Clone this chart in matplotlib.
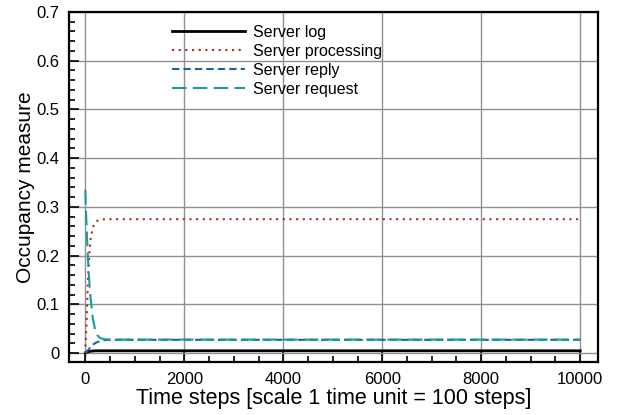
import matplotlib
matplotlib.use("Agg")
import matplotlib.pyplot as plt
from matplotlib.ticker import MultipleLocator

plt.rcParams['font.family'] = ['Liberation Sans', 'DejaVu Sans']

t = [0, 10, 25, 50, 75, 100, 150, 200, 250, 300, 400, 500, 700, 1000, 10000]
server_log = [0, 0.001, 0.002, 0.003, 0.0035, 0.004, 0.0045, 0.005, 0.005, 0.005, 0.005, 0.005, 0.005, 0.005, 0.005]
server_processing = [0, 0.03, 0.065, 0.14, 0.195, 0.23, 0.258, 0.268, 0.272, 0.274, 0.275, 0.275, 0.275, 0.275, 0.275]
server_reply = [0, 0.001, 0.003, 0.006, 0.009, 0.012, 0.017, 0.021, 0.023, 0.025, 0.027, 0.0275, 0.0275, 0.0275, 0.0275]
server_request = [0.335, 0.30, 0.26, 0.20, 0.155, 0.12, 0.072, 0.047, 0.036, 0.031, 0.0285, 0.028, 0.028, 0.028, 0.028]

labels = ["Server log", "Server processing", "Server reply", "Server request"]

fig = plt.figure(figsize=(6.19, 4.15), dpi=100)
ax = fig.add_axes([69/619, 1-362/415, (598-69)/619, (362-12)/415])

ax.plot(t, server_log, color='black', lw=2.0, ls='-', label=labels[0])
ax.plot(t, server_processing, color='#b0281e', lw=1.5, ls=(0, (1, 2.2)), label=labels[1])
ax.plot(t, server_reply, color='#1f5fa8', lw=1.5, ls=(0, (3.5, 2)), label=labels[2])
ax.plot(t, server_request, color='#1a9a9a', lw=1.5, ls=(0, (7, 3)), label=labels[3])

ax.set_xlim(-330, 10360)
ax.set_ylim(-0.018, 0.7)
ax.xaxis.set_minor_locator(MultipleLocator(500))
ax.yaxis.set_minor_locator(MultipleLocator(0.02))
ax.set_yticks([0, 0.1, 0.2, 0.3, 0.4, 0.5, 0.6, 0.7])
ax.set_yticklabels(["0", "0.1", "0.2", "0.3", "0.4", "0.5", "0.6", "0.7"])
ax.set_xticks([0, 2000, 4000, 6000, 8000, 10000])
ax.set_xticklabels(["0", "2000", "4000", "6000", "8000", "10000"])

ax.grid(True, which='major', color='#909090', lw=1.0)
ax.set_axisbelow(True)
ax.tick_params(which='both', direction='in', top=False, right=False, labelsize=12, width=1.2)
ax.tick_params(which='major', length=7, pad=7)
ax.tick_params(which='minor', length=4)
for s in ax.spines.values():
    s.set_linewidth(1.6)

ax.set_xlabel("Time steps [scale 1 time unit = 100 steps]", fontsize=15.5, labelpad=1)
ax.set_ylabel("Occupancy measure", fontsize=15, labelpad=1)

ax.legend(loc='upper left', bbox_to_anchor=(0.17, 1.0), frameon=False, fontsize=11.5,
          handlelength=4.6, handletextpad=0.5, labelspacing=0.25, borderaxespad=0.4)

fig.savefig("out.png", dpi=100)
